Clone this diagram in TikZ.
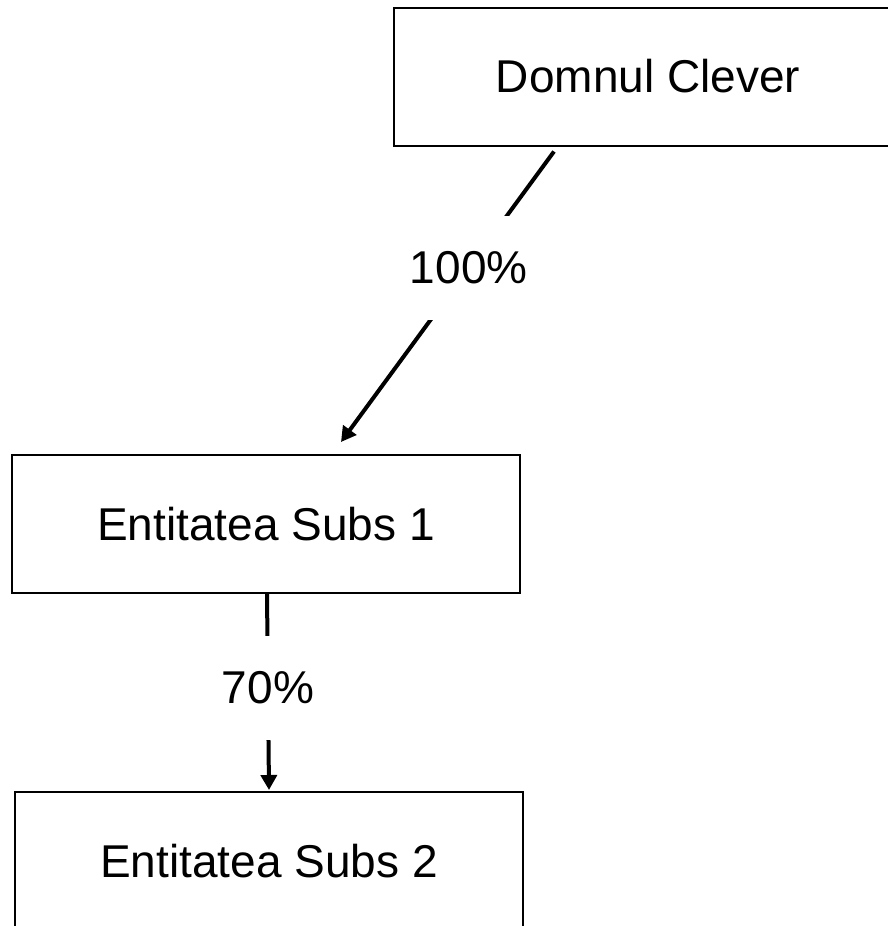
\documentclass[tikz,border=0pt]{standalone}
\usepackage{fontspec}
\setmainfont{Liberation Sans}
\usetikzlibrary{arrows.meta,positioning}
\tikzset{
  entity/.style={draw,line width=2pt,inner sep=0pt,minimum width=508pt,minimum height=138pt,
    font=\fontsize{46}{55}\selectfont},
  share/.style={fill=white,inner sep=0pt,minimum width=114pt,minimum height=104pt,
    font=\fontsize{46}{55}\selectfont},
  owns/.style={line width=4pt,-{Triangle[length=15pt,width=16pt]}}
}
\begin{document}
\begin{tikzpicture}[x=1pt,y=-1pt]
  \useasboundingbox (0,0) rectangle (888,926);
  \clip (0,0) rectangle (888,926);
  \draw
    (648,76.5) node[entity] (clever){Domnul Clever}
    (266,524) node[entity] (subs1){Entitatea Subs 1}
    (269,861) node[entity] (subs2){Entitatea Subs 2};
  \begin{scope}[owns]
    \draw ([xshift=161pt,yshift=-5pt]clever.south west) to
      node[share,pos=0.4] (p1){100\%} ([xshift=330pt,yshift=12pt]subs1.north west);
    \draw ([xshift=1pt]subs1.south) to
      node[share,pos=0.48] (p2){70\%} ([yshift=1pt]subs2.north);
  \end{scope}
\end{tikzpicture}
\end{document}
